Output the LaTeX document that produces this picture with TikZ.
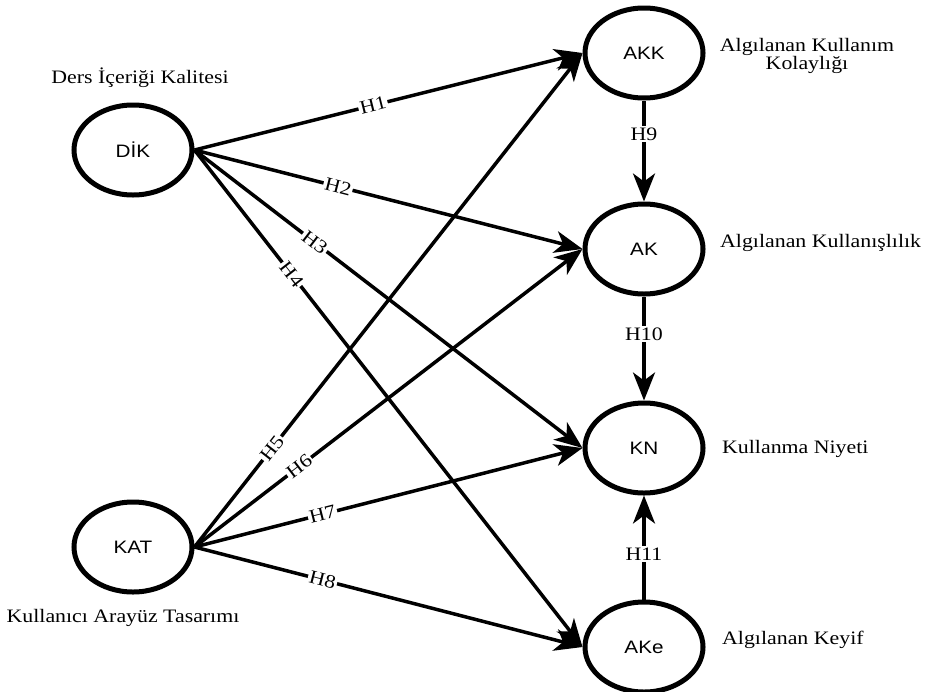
\documentclass[tikz,border=0pt]{standalone}
\usepackage{fontspec}
\setmainfont{Liberation Serif}[FakeStretch=1.15]
\setsansfont{Liberation Sans}[FakeStretch=1.15]
\usetikzlibrary{shapes.geometric,arrows.meta}
\begin{document}
\begin{tikzpicture}[x=1pt,y=-1pt,
  construct/.style={ellipse, draw, line width=5pt, minimum width=118pt, minimum height=90pt, inner sep=0pt, font=\sffamily\fontsize{18}{20}\selectfont},
  link/.style={line width=3.5pt, -{Stealth[length=28pt,width=22pt,inset=8pt]}},
  hlab/.style={fill=white, inner sep=1.5pt, font=\fontsize{19}{21}\selectfont, sloped},
  vlab/.style={fill=white, inner sep=1.5pt, font=\fontsize{19}{21}\selectfont},
  desc/.style={font=\fontsize{19}{21}\selectfont, align=center, inner sep=0pt}
]
\useasboundingbox (0,0) rectangle (925,691);

\node[construct] (DIK) at (133,150) {DİK};
\node[construct] (KAT) at (133,547) {KAT};
\node[construct] (AKK) at (644,53) {AKK};
\node[construct] (AK) at (644,249) {AK};
\node[construct] (KN) at (644,448) {KN};
\node[construct] (AKe) at (644,647) {AKe};

\node[desc] (dDIK) at (140,78) {Ders İçeriği Kalitesi};
\node[desc] (dKAT) at (123,618) {Kullanıcı Arayüz Tasarımı};
\node[desc] (dAKK) at (807,56) {Algılanan Kullanım\\[-3pt]Kolaylığı};
\node[desc, anchor=west] (dAK) at (720,243) {Algılanan Kullanışlılık};
\node[desc, anchor=west] (dKN) at (722,449) {Kullanma Niyeti};
\node[desc, anchor=west] (dAKe) at (722,640) {Algılanan Keyif};

\draw[link] (DIK.east) -- node[hlab, pos=0.46]{H1} (AKK.west);
\draw[link] (DIK.east) -- node[hlab, pos=0.37]{H2} (AK.west);
\draw[link] (DIK.east) -- node[hlab, pos=0.31]{H3} (KN.west);
\draw[link] (DIK.east) -- node[hlab, pos=0.25]{H4} (AKe.west);

\draw[link] (KAT.east) -- node[hlab, pos=0.20]{H5} (AKK.west);
\draw[link] (KAT.east) -- node[hlab, pos=0.27]{H6} (AK.west);
\draw[link] (KAT.east) -- node[hlab, pos=0.33]{H7} (KN.west);
\draw[link] (KAT.east) -- node[hlab, pos=0.33]{H8} (AKe.west);

\draw[link] (AKK.south) -- node[vlab, pos=0.33]{H9} (AK.north);
\draw[link] (AK.south) -- node[vlab, pos=0.36]{H10} (KN.north);
\draw[link] (AKe.north) -- node[vlab, pos=0.44]{H11} (KN.south);
\end{tikzpicture}
\end{document}
